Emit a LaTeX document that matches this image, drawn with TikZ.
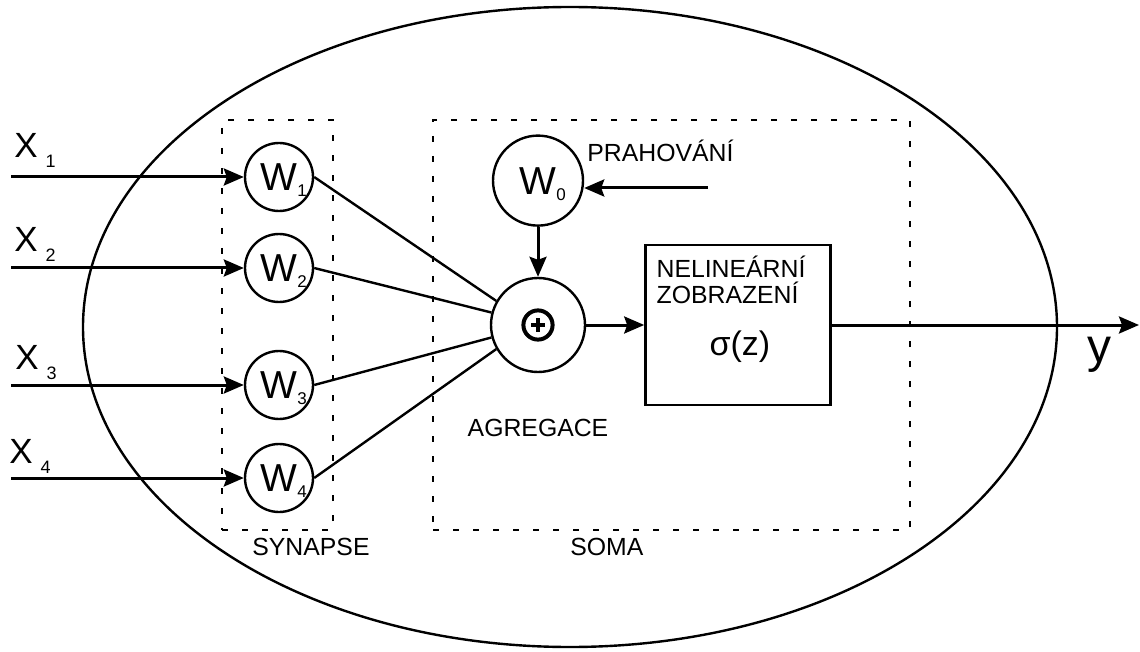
\documentclass[tikz,border=0pt]{standalone}
\usepackage{fontspec}
\setmainfont{Liberation Sans}
\usepackage{tikz}
\usetikzlibrary{positioning, shapes, arrows.meta}
\tikzstyle{weight}=[circle, draw, line width=1.2pt, minimum size=34pt, inner sep=0pt, font=\fontsize{19.5}{19.5}\selectfont]
\tikzstyle{bias}=[weight, minimum size=45pt]
\tikzstyle{adder}=[circle, draw, line width=1.2pt, minimum size=47pt, inner sep=0pt]
\tikzstyle{block}=[rectangle, draw, line width=1.3pt, minimum width=92.5pt, minimum height=80pt]
\tikzstyle{region}=[rectangle, draw, line width=1.4pt, dash pattern=on 3pt off 7pt, inner sep=0pt]
\tikzstyle{txt}=[inner sep=0pt, font=\fontsize{12.4}{13}\selectfont]
\tikzstyle{wire}=[line width=1.2pt]
\tikzstyle{feed}=[line width=1.5pt, -{Stealth[length=10pt, width=8.5pt, inset=1.5pt]}]
% index beside a W, and an input name X with its index
\newcommand{\wsub}[1]{\rlap{\smash{\raisebox{-3pt}{\fontsize{8.5}{8.5}\selectfont #1}}}}
\newcommand{\xin}[1]{X\hspace{4pt}\raisebox{-5pt}{\fontsize{9}{9}\selectfont #1}}

\begin{document}
\begin{tikzpicture}[x=0.5pt, y=-0.5pt]
        \useasboundingbox (0,0) rectangle (1140,652);

        % Buňka
        \draw[line width=1.2pt] (570,327) ellipse [x radius=243.5pt, y radius=160pt];

        % Oblasti
        \node[region, minimum width=55.5pt, minimum height=205pt] (synapse) at (277.5,325) {};
        \node[region, minimum width=238.5pt, minimum height=205pt] (soma) at (671.5,325) {};
        \node[txt, anchor=base west] (synname) at (252,555) {SYNAPSE};
        \node[txt, anchor=base west] (somaname) at (570,555) {SOMA};

        % Váhy
        \node[weight] (w1) at (279,177) {W\wsub{1}};
        \node[weight] (w2) at (279,268) {W\wsub{2}};
        \node[weight] (w3) at (279,385) {W\wsub{3}};
        \node[weight] (w4) at (279,478) {W\wsub{4}};

        % Vstupy
        \coordinate (x1) at (11,177);
        \coordinate (x2) at (11,268);
        \coordinate (x3) at (11,385);
        \coordinate (x4) at (11,478);
        \node[txt, anchor=base west, font=\fontsize{17.5}{17.5}\selectfont] (lx1) at (14,158) {\xin{1}};
        \node[txt, anchor=base west, font=\fontsize{17.5}{17.5}\selectfont] (lx2) at (14,252) {\xin{2}};
        \node[txt, anchor=base west, font=\fontsize{17.5}{17.5}\selectfont] (lx3) at (15,369) {\xin{3}};
        \node[txt, anchor=base west, font=\fontsize{17.5}{17.5}\selectfont] (lx4) at (9,463) {\xin{4}};
        \draw[feed] (x1) -- (w1);
        \draw[feed] (x2) -- (w2);
        \draw[feed] (x3) -- (w3);
        \draw[feed] (x4) -- (w4);

        % Agregace
        \node[adder] (sum) at (538,325) {};
        \draw[line width=2pt] (sum.center) circle (7.3pt);
        \draw[line width=1.6pt] ([xshift=-3.3pt]sum.center) -- ([xshift=3.3pt]sum.center);
        \draw[line width=1.6pt] ([yshift=-3.3pt]sum.center) -- ([yshift=3.3pt]sum.center);
        \node[txt, below=23pt of sum] (aggname) {AGREGACE};
        \draw[wire] (w1.east) -- (sum.150);
        \draw[wire] (w2.east) -- (sum.165);
        \draw[wire] (w3.east) -- (sum.195);
        \draw[wire] (w4.east) -- (sum.210);

        % Práh
        \node[bias, above=25pt of sum] (w0) {W\wsub{0}};
        \coordinate (thr) at (708,188);
        \node[txt, anchor=base west] (thrname) at (587,162) {PRAHOVÁNÍ};
        \draw[feed] (thr) -- (thr -| w0.east);
        \draw[feed] (w0) -- (sum);

        % Nelineární zobrazení
        \node[block, right=29pt of sum] (act) {};
        \node[txt, anchor=north west, align=left] (actname) at ([xshift=6pt, yshift=-6pt]act.north west) {NELINEÁRNÍ\\ZOBRAZENÍ};
        \node[inner sep=0pt, anchor=base, font=\fontsize{17}{17}\selectfont] (sigma) at ([xshift=1pt, yshift=-15pt]act.center) {σ(z)};
        \draw[feed] (sum) -- (act);

        % Výstup
        \coordinate (out) at (1139,325);
        \draw[feed] (act) -- (out);
        \node[inner sep=0pt, anchor=base west, font=\fontsize{24}{24}\selectfont] (yname) at (1087,362) {y};
\end{tikzpicture}
\end{document}
